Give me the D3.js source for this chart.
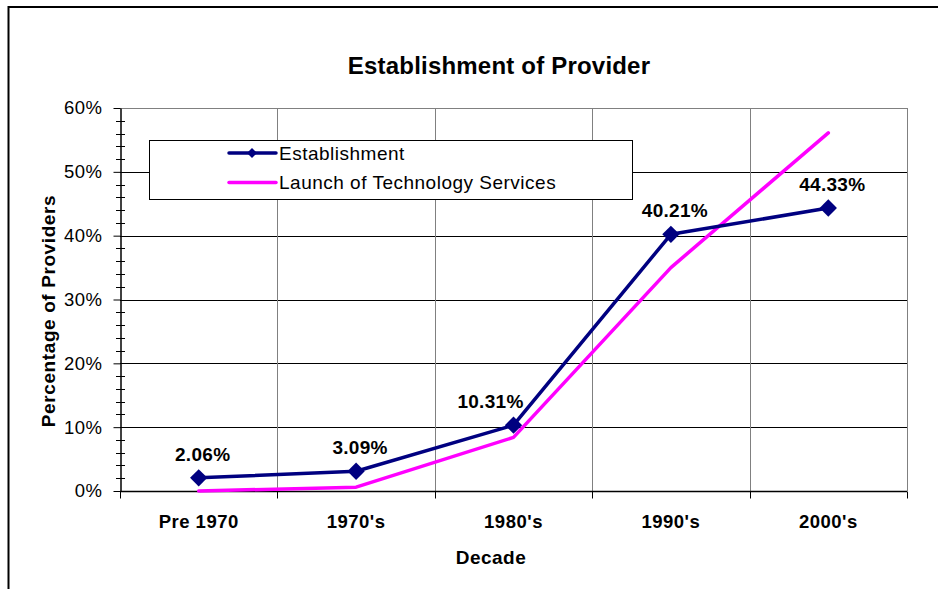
<!DOCTYPE html>
<html>
<head>
<meta charset="utf-8">
<script src="https://cdn.jsdelivr.net/npm/d3@7"></script>
<style>
  body { margin: 0; background: #fff; }
  text { font-family: "Liberation Sans", Arial, sans-serif; }
</style>
</head>
<body>
<div id="chart"></div>
<script>
(function () {
  const Navy = "#000080";
  const Magenta = "#FF00FF";

  // chart data
  var decades = ["Pre 1970", "1970's", "1980's", "1990's", "2000's"];
  var establishment = [0.0206, 0.0309, 0.1031, 0.4021, 0.4433];
  var launchTech = [0.0, 0.006, 0.084, 0.35, 0.561];
  var yTicks = [0, 0.1, 0.2, 0.3, 0.4, 0.5, 0.6];
  var seriesNames = ["Establishment", "Launch of Technology Services"];

  var W = 938, H = 589;
  var plot = { left: 120, right: 907, top: 108, bottom: 491 };

  var svg = d3
    .select("#chart")
    .append("svg")
    .attr("width", W)
    .attr("height", H);

  // outer frame (cut off on right and bottom)
  svg
    .append("rect")
    .attr("x", 8.5)
    .attr("y", 7)
    .attr("width", 1000)
    .attr("height", 1000)
    .attr("fill", "none")
    .attr("stroke", "#000")
    .attr("stroke-width", 2);

  // scales
  var x = d3
    .scaleBand()
    .domain(decades)
    .range([plot.left, plot.right])
    .padding(0);

  var y = d3.scaleLinear().domain([0, 0.6]).range([plot.bottom, plot.top]);

  function cx(d) {
    return x(d) + x.bandwidth() / 2;
  }

  // horizontal gridlines
  svg
    .selectAll(".hgrid")
    .data(yTicks.slice(1))
    .enter()
    .append("line")
    .attr("x1", plot.left)
    .attr("x2", plot.right)
    .attr("y1", function (d) { return Math.round(y(d)) + 0.5; })
    .attr("y2", function (d) { return Math.round(y(d)) + 0.5; })
    .attr("stroke", function (d) { return d === 0.6 ? "#808080" : "#000"; })
    .attr("stroke-width", 1);

  // vertical gridlines at band edges + right border
  var edges = decades.slice(1).map(function (d) { return x(d); }).concat([plot.right]);
  svg
    .selectAll(".vgrid")
    .data(edges)
    .enter()
    .append("line")
    .attr("x1", function (d) { return Math.round(d) + 0.5; })
    .attr("x2", function (d) { return Math.round(d) + 0.5; })
    .attr("y1", plot.top)
    .attr("y2", plot.bottom)
    .attr("stroke", "#808080")
    .attr("stroke-width", 1);

  // x-axis line and ticks
  var xAxisY = Math.round(y(0)) + 0.5;
  svg
    .append("line")
    .attr("x1", plot.left)
    .attr("x2", plot.right)
    .attr("y1", xAxisY)
    .attr("y2", xAxisY)
    .attr("stroke", "#000")
    .attr("stroke-width", 1.5);

  svg
    .selectAll(".xtick")
    .data([plot.left].concat(edges))
    .enter()
    .append("line")
    .attr("x1", function (d) { return Math.round(d) + 0.5; })
    .attr("x2", function (d) { return Math.round(d) + 0.5; })
    .attr("y1", xAxisY)
    .attr("y2", xAxisY + 7)
    .attr("stroke", "#000");

  svg
    .selectAll(".xlabel")
    .data(decades)
    .enter()
    .append("text")
    .attr("x", function (d) { return cx(d); })
    .attr("y", 528)
    .attr("text-anchor", "middle")
    .style("font-size", "18.5px")
    .style("font-weight", "bold")
    .style("letter-spacing", "0.5px")
    .text(function (d) { return d; });

  // y-axis
  var yAxis = svg
    .append("g")
    .attr("transform", "translate(" + (plot.left + 0.5) + ",0)")
    .call(
      d3.axisLeft(y)
        .tickValues(yTicks)
        .tickFormat(d3.format(".0%"))
        .tickSize(7)
        .tickSizeOuter(0)
        .tickPadding(11)
    );
  yAxis.select(".domain").attr("stroke", "#000").attr("stroke-width", 1.5);
  yAxis.selectAll(".tick line").attr("stroke", "#000");
  yAxis
    .selectAll("text")
    .style("font-family", "Liberation Sans, Arial, sans-serif")
    .style("font-size", "18.5px")
    .style("letter-spacing", "0.5px")
    .attr("fill", "#000");

  // minor ticks every 2%, crossing the axis
  var minor = d3.range(0.02, 0.6, 0.02).filter(function (d) {
    return Math.abs(Math.round(d * 10) - d * 10) > 1e-6;
  });
  svg
    .selectAll(".minor")
    .data(minor)
    .enter()
    .append("line")
    .attr("x1", plot.left - 4)
    .attr("x2", plot.left + 5)
    .attr("y1", function (d) { return Math.round(y(d)) + 0.5; })
    .attr("y2", function (d) { return Math.round(y(d)) + 0.5; })
    .attr("stroke", "#000");

  // series lines
  var line = d3
    .line()
    .x(function (d, i) { return cx(decades[i]); })
    .y(function (d) { return y(d); });

  svg
    .append("path")
    .datum(launchTech)
    .attr("d", line)
    .attr("fill", "none")
    .attr("stroke", Magenta)
    .attr("stroke-width", 3.5)
    .attr("stroke-linejoin", "round")
    .attr("stroke-linecap", "round");

  svg
    .append("path")
    .datum(establishment)
    .attr("d", line)
    .attr("fill", "none")
    .attr("stroke", Navy)
    .attr("stroke-width", 3.5)
    .attr("stroke-linejoin", "round");

  // diamond markers
  var diamond = d3.symbol().type(d3.symbolSquare).size(150);
  svg
    .selectAll(".marker")
    .data(establishment)
    .enter()
    .append("path")
    .attr("d", diamond)
    .attr("transform", function (d, i) {
      return "translate(" + cx(decades[i]) + "," + y(d) + ") rotate(45)";
    })
    .attr("fill", Navy);

  // data labels (1980's label nudged left, as in the original)
  var labelShift = { "1980's": -27 };
  svg
    .selectAll(".data-label")
    .data(establishment)
    .enter()
    .append("text")
    .attr("x", function (d, i) {
      return cx(decades[i]) + 4 + (labelShift[decades[i]] || 0);
    })
    .attr("y", function (d) { return y(d) - 17; })
    .attr("text-anchor", "middle")
    .style("font-size", "19px")
    .style("font-weight", "bold")
    .style("letter-spacing", "0.3px")
    .text(function (d) { return d3.format(".2%")(d); });

  // title
  svg
    .append("text")
    .attr("x", 499)
    .attr("y", 74)
    .attr("text-anchor", "middle")
    .style("font-size", "24px")
    .style("font-weight", "bold")
    .style("letter-spacing", "0.2px")
    .text("Establishment of Provider");

  // axis titles
  svg
    .append("text")
    .attr("x", 491)
    .attr("y", 564)
    .attr("text-anchor", "middle")
    .style("font-size", "19px")
    .style("font-weight", "bold")
    .style("letter-spacing", "0.5px")
    .text("Decade");

  svg
    .append("text")
    .attr("transform", "translate(55,311) rotate(-90)")
    .attr("text-anchor", "middle")
    .style("font-size", "19px")
    .style("font-weight", "bold")
    .style("letter-spacing", "0.6px")
    .text("Percentage of Providers");

  // legend
  var legend = svg.append("g");
  legend
    .append("rect")
    .attr("x", 149.5)
    .attr("y", 140.5)
    .attr("width", 483)
    .attr("height", 59)
    .attr("fill", "#fff")
    .attr("stroke", "#000");

  var legendColors = [Navy, Magenta];
  var rows = legend
    .selectAll(".legend-row")
    .data(seriesNames)
    .enter()
    .append("g")
    .attr("transform", function (d, i) {
      return "translate(0," + (153 + i * 29.5) + ")";
    });

  rows
    .append("line")
    .attr("x1", 229)
    .attr("x2", 276)
    .attr("stroke", function (d, i) { return legendColors[i]; })
    .attr("stroke-width", 3.5)
    .attr("stroke-linecap", "round");

  rows
    .filter(function (d, i) { return i === 0; })
    .append("path")
    .attr("d", d3.symbol().type(d3.symbolSquare).size(50))
    .attr("transform", "translate(252,0) rotate(45)")
    .attr("fill", Navy);

  rows
    .append("text")
    .attr("x", 279)
    .attr("y", 6.5)
    .style("font-size", "19px")
    .style("letter-spacing", "0.5px")
    .text(function (d) { return d; });
})();
</script>
</body>
</html>
